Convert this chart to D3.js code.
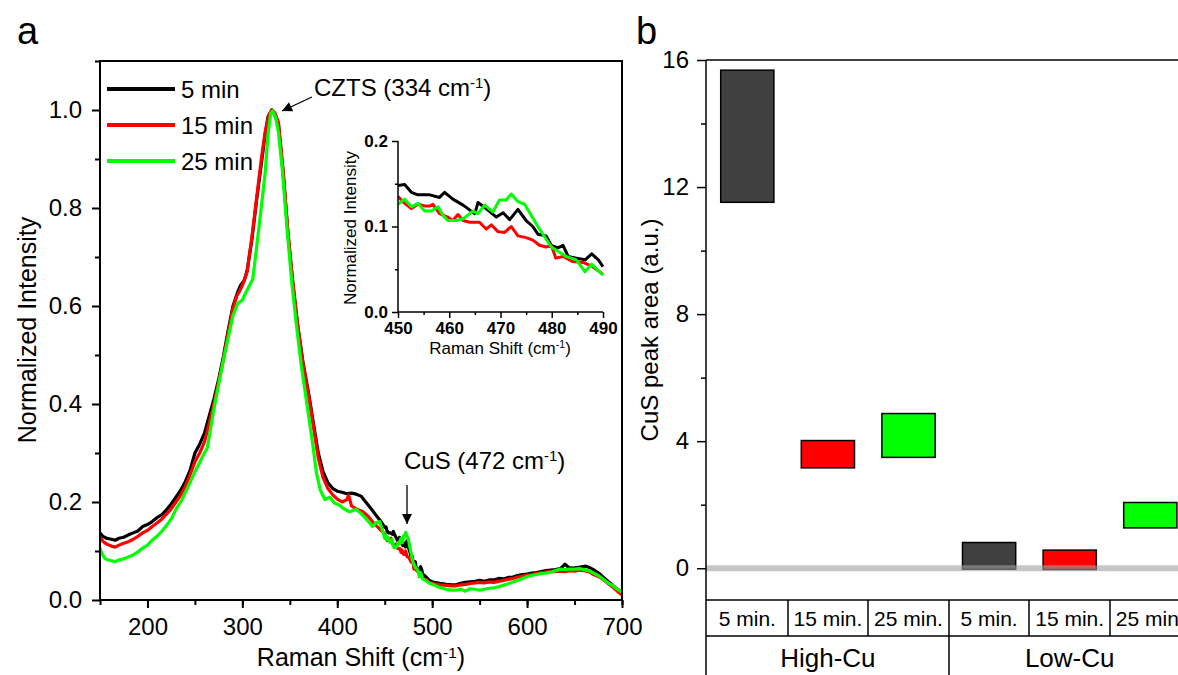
<!DOCTYPE html>
<html>
<head>
<meta charset="utf-8">
<script src="https://cdn.jsdelivr.net/npm/d3@7"></script>
<style>
  body { margin: 0; background: #fff; }
  svg { font-family: "Liberation Sans", Arial, sans-serif; }
</style>
</head>
<body>
<svg id="chart" width="1178" height="675"></svg>
<script>
// ---- panel a: Raman spectra [shift cm-1, normalized intensity] ----
var spec5 = [
  [150,0.137],[153,0.130],[157,0.126],[162,0.124],[166,0.122],[170,0.126],[175,0.128],[180,0.133],
  [185,0.137],[190,0.141],[195,0.150],[200,0.154],[205,0.160],[210,0.168],[215,0.174],[220,0.184],
  [225,0.196],[230,0.210],[235,0.224],[240,0.242],[245,0.265],[250,0.300],[255,0.318],[260,0.340],
  [265,0.375],[270,0.410],[275,0.450],[280,0.497],[285,0.550],[290,0.599],[295,0.628],[298,0.642],
  [302,0.652],[305,0.672],[310,0.735],[315,0.816],[320,0.890],[324,0.950],[327,0.986],[331,1.000],
  [334,0.990],[338,0.970],[343,0.871],[348,0.748],[353,0.650],[358,0.565],[364,0.483],[370,0.420],
  [376,0.347],[380,0.300],[385,0.262],[390,0.240],[395,0.228],[400,0.222],[405,0.220],[410,0.217],
  [415,0.218],[420,0.216],[425,0.212],[430,0.200],[435,0.188],[440,0.175],[445,0.163],
  [450,0.148],[451.3,0.149],[452.6,0.140],[453.9,0.137],[456.2,0.137],[458.1,0.134],[459.1,0.140],
  [460.7,0.132],[462.7,0.125],[464.3,0.118],[465,0.115],[465.6,0.128],[467.2,0.121],[469.2,0.111],
  [470.5,0.116],[471.8,0.108],[473.4,0.120],[475,0.107],[476.3,0.100],[477.3,0.091],[478.9,0.089],
  [479.9,0.078],[481.2,0.075],[482.2,0.078],[483.2,0.065],[484.8,0.063],[486.5,0.061],[487.8,0.068],
  [489.1,0.061],[490,0.053],
  [493,0.048],[497,0.040],[502,0.036],[508,0.034],[515,0.032],[520,0.031],[525,0.031],[530,0.034],
  [535,0.036],[540,0.037],[545,0.038],[550,0.040],[555,0.038],[560,0.041],[565,0.041],[570,0.044],
  [575,0.043],[580,0.046],[585,0.047],[590,0.050],[595,0.052],[600,0.053],[605,0.055],[610,0.056],
  [615,0.058],[620,0.060],[625,0.061],[630,0.062],[635,0.064],[640,0.073],[644,0.066],[648,0.065],
  [652,0.066],[656,0.067],[662,0.069],[666,0.066],[670,0.062],[676,0.054],[680,0.047],[686,0.037],
  [690,0.030],[695,0.022],[700,0.016]
];
var spec15 = [
  [150,0.129],[153,0.120],[157,0.114],[162,0.110],[166,0.108],[170,0.112],[175,0.116],[180,0.119],
  [185,0.124],[190,0.130],[195,0.137],[200,0.142],[205,0.150],[210,0.157],[215,0.165],[220,0.175],
  [225,0.186],[230,0.200],[235,0.214],[240,0.232],[245,0.256],[250,0.282],[255,0.300],[260,0.322],
  [265,0.360],[270,0.400],[275,0.445],[280,0.490],[285,0.545],[290,0.595],[294,0.620],[297,0.630],
  [300,0.642],[305,0.670],[310,0.740],[315,0.820],[320,0.900],[324,0.955],[328,0.990],[331,1.000],
  [334,0.995],[338,0.975],[343,0.875],[348,0.752],[353,0.650],[358,0.565],[364,0.480],[370,0.415],
  [376,0.340],[380,0.290],[385,0.250],[390,0.228],[395,0.215],[400,0.206],[405,0.200],[410,0.205],
  [412,0.214],[415,0.192],[420,0.186],[427,0.180],[432,0.172],[437,0.160],[442,0.150],[446,0.142],
  [450,0.135],[451.3,0.127],[452.6,0.121],[453.9,0.126],[455.2,0.124],[456.2,0.124],[456.8,0.126],
  [458.1,0.115],[459.7,0.111],[460.7,0.107],[461.7,0.114],[462.7,0.107],[464,0.105],[465.9,0.105],
  [467.2,0.097],[468.2,0.102],[469.5,0.094],[470.8,0.093],[472.1,0.100],[473.4,0.089],[475,0.087],
  [476.3,0.084],[477.6,0.078],[478.9,0.076],[479.9,0.078],[480.8,0.063],[482.2,0.065],[484.1,0.059],
  [486.1,0.058],[488,0.053],[490,0.044],
  [493,0.042],[497,0.036],[502,0.033],[508,0.031],[515,0.030],[520,0.029],[525,0.029],[530,0.031],
  [535,0.032],[540,0.034],[545,0.035],[550,0.036],[555,0.035],[560,0.037],[565,0.036],[570,0.038],
  [575,0.040],[580,0.042],[585,0.044],[590,0.047],[595,0.049],[600,0.051],[605,0.052],[610,0.054],
  [615,0.056],[620,0.057],[625,0.058],[630,0.058],[635,0.059],[640,0.058],[645,0.060],[650,0.059],
  [655,0.061],[660,0.060],[665,0.058],[670,0.052],[675,0.048],[680,0.042],[685,0.034],[690,0.027],
  [695,0.018],[700,0.010]
];
var spec25 = [
  [150,0.106],[152,0.095],[155,0.085],[158,0.082],[162,0.080],[166,0.078],[170,0.082],[175,0.084],
  [180,0.088],[185,0.092],[190,0.098],[195,0.106],[200,0.112],[205,0.122],[210,0.130],[215,0.140],
  [220,0.152],[225,0.165],[230,0.185],[235,0.200],[240,0.220],[245,0.240],[250,0.262],[255,0.280],
  [260,0.300],[263,0.310],[268,0.367],[272,0.410],[276,0.450],[280,0.490],[285,0.535],[290,0.580],
  [295,0.605],[300,0.612],[303,0.625],[306,0.636],[311,0.655],[315,0.720],[318,0.769],[321,0.820],
  [324,0.871],[327,0.950],[330,0.995],[332,0.998],[335,0.985],[338,0.955],[342,0.880],[347,0.760],
  [352,0.650],[357,0.560],[362,0.480],[368,0.400],[374,0.320],[378,0.260],[382,0.225],[387,0.205],
  [392,0.210],[397,0.198],[402,0.194],[407,0.186],[413,0.180],[420,0.185],[424,0.178],[427,0.173],
  [432,0.162],[437,0.150],[441,0.158],[444.7,0.160],[448,0.140],
  [450,0.126],[451.3,0.132],[452.6,0.123],[453.9,0.127],[455.2,0.118],[456.5,0.118],[457.8,0.123],
  [458.8,0.113],[459.7,0.107],[461.4,0.107],[462.7,0.109],[464.6,0.118],[465.6,0.115],[466.9,0.125],
  [468.5,0.117],[469.8,0.131],[471.1,0.131],[472.1,0.138],[473.4,0.129],[474.7,0.126],[476,0.113],
  [477.3,0.100],[478.6,0.088],[479.9,0.076],[481.5,0.070],[482.8,0.065],[484.8,0.061],[486.5,0.047],
  [487.8,0.056],[490,0.043],
  [493,0.040],[497,0.034],[503,0.030],[507,0.026],[511,0.024],[516,0.021],[520,0.020],[525,0.020],
  [530,0.022],[535,0.018],[540,0.023],[545,0.022],[550,0.020],[555,0.022],[560,0.024],[565,0.025],
  [570,0.027],[575,0.030],[580,0.033],[585,0.037],[590,0.040],[595,0.044],[600,0.048],[605,0.050],
  [610,0.052],[615,0.054],[620,0.055],[625,0.057],[630,0.060],[635,0.063],[640,0.062],[645,0.063],
  [650,0.063],[655,0.064],[660,0.062],[665,0.060],[670,0.055],[675,0.050],[680,0.043],[685,0.035],
  [690,0.030],[695,0.022],[700,0.016]
];
var specNames = ["5 min", "15 min", "25 min"];
var specColors = ["#000000", "#ff0000", "#00ff00"];

var xTicks = [200, 300, 400, 500, 600, 700];
var yTicks = [0, 0.2, 0.4, 0.6, 0.8, 1.0];
var insetXTicks = [450, 460, 470, 480, 490];
var insetYTicks = [0, 0.1, 0.2];

// ---- panel b: CuS peak area boxes ----
var bGroups = ["High-Cu", "Low-Cu"];
var bTimes = ["5 min.", "15 min.", "25 min."];
var bLow  = [11.52, 3.16, 3.49, -0.03, -0.04, 1.27];
var bHigh = [15.68, 4.02, 4.87, 0.81, 0.57, 2.07];
var bColors = ["#404040", "#ff0000", "#00ff00"];
var bTicks = [0, 4, 8, 12, 16];

var svg = d3.select("#chart");

// superscript helper: parts = [[text, sup?], ...]
function richText(sel, parts) {
  parts.forEach(function(p) {
    var t = sel.append("tspan").text(p[0]);
    if (p[1]) t.attr("font-size", "0.62em").attr("baseline-shift", "super");
  });
  return sel;
}

var defs = svg.append("defs");
defs.append("marker")
  .attr("id", "arr")
  .attr("viewBox", "0 0 10 10")
  .attr("refX", 10).attr("refY", 5)
  .attr("markerUnits", "userSpaceOnUse")
  .attr("markerWidth", 13).attr("markerHeight", 10)
  .attr("orient", "auto")
  .append("path").attr("d", "M0,0 L10,5 L0,10 z").attr("fill", "#000");

// ================= panel a =================
var x = d3.scaleLinear().domain([150, 700]).range([100, 622]);
var y = d3.scaleLinear().domain([0, 1.1]).range([600, 61]);

var ga = svg.append("g");

function styleAxis(g, w) {
  g.select(".domain").remove();
  g.selectAll(".tick line").attr("stroke", "#000").attr("stroke-width", w);
  g.selectAll(".tick text").attr("fill", "#000");
}

// minor + major ticks
ga.append("g").attr("transform", "translate(0,600)")
  .call(d3.axisBottom(x).tickValues(d3.range(150, 701, 50)).tickSize(5).tickFormat(""))
  .call(styleAxis, 2);
ga.append("g").attr("transform", "translate(0,600)")
  .call(d3.axisBottom(x).tickValues(xTicks).tickSize(8).tickPadding(10))
  .call(styleAxis, 2)
  .selectAll("text").attr("font-size", 24).attr("font-family", "Liberation Sans, Arial, sans-serif");
ga.append("g").attr("transform", "translate(100,0)")
  .call(d3.axisLeft(y).tickValues(d3.range(0.1, 1.11, 0.2)).tickSize(5).tickFormat(""))
  .call(styleAxis, 2);
ga.append("g").attr("transform", "translate(100,0)")
  .call(d3.axisLeft(y).tickValues(yTicks).tickSize(8).tickPadding(10).tickFormat(d3.format(".1f")))
  .call(styleAxis, 2)
  .selectAll("text").attr("font-size", 24).attr("font-family", "Liberation Sans, Arial, sans-serif");

// spectra
var line = d3.line().x(function(d) { return x(d[0]); }).y(function(d) { return y(d[1]); });
var specs = [spec5, spec15, spec25];
ga.selectAll(".spec").data(specs).enter().append("path")
  .attr("d", line)
  .attr("fill", "none")
  .attr("stroke", function(d, i) { return specColors[i]; })
  .attr("stroke-width", 3.2)
  .attr("stroke-linejoin", "round");

// frame
ga.append("rect").attr("x", 100).attr("y", 61).attr("width", 522).attr("height", 539)
  .attr("fill", "none").attr("stroke", "#000").attr("stroke-width", 2);

// legend
var leg = ga.selectAll(".leg").data(specNames).enter().append("g")
  .attr("transform", function(d, i) { return "translate(107," + (89 + i * 36) + ")"; });
leg.append("line").attr("x1", 0).attr("x2", 68)
  .attr("stroke", function(d, i) { return specColors[i]; }).attr("stroke-width", 4);
leg.append("text").attr("x", 74).attr("dy", "0.36em").attr("font-size", 24).text(function(d) { return d; });

// annotations
richText(ga.append("text").attr("x", 314).attr("y", 96).attr("font-size", 24),
  [["CZTS (334 cm"], ["-1", true], [")"]]);
ga.append("line").attr("x1", 312).attr("y1", 97).attr("x2", 282).attr("y2", 111)
  .attr("stroke", "#000").attr("stroke-width", 1.3).attr("marker-end", "url(#arr)");
richText(ga.append("text").attr("x", 404).attr("y", 469).attr("font-size", 24),
  [["CuS (472 cm"], ["-1", true], [")"]]);
ga.append("line").attr("x1", 407).attr("y1", 485).attr("x2", 407).attr("y2", 524)
  .attr("stroke", "#000").attr("stroke-width", 1.3).attr("marker-end", "url(#arr)");

// inset
var xi = d3.scaleLinear().domain([450, 490]).range([398, 603]);
var yi = d3.scaleLinear().domain([0, 0.2]).range([312, 141]);
defs.append("clipPath").attr("id", "insetClip").append("rect")
  .attr("x", 398).attr("y", 120).attr("width", 206).attr("height", 192);
var gi = svg.append("g");
var lineI = d3.line().x(function(d) { return xi(d[0]); }).y(function(d) { return yi(d[1]); });
gi.append("g").attr("clip-path", "url(#insetClip)")
  .selectAll("path").data(specs).enter().append("path")
  .attr("d", function(d) { return lineI(d.filter(function(p) { return p[0] >= 448 && p[0] <= 492; })); })
  .attr("fill", "none")
  .attr("stroke", function(d, i) { return specColors[i]; })
  .attr("stroke-width", 3)
  .attr("stroke-linejoin", "round");
gi.append("g").attr("transform", "translate(0,312)")
  .call(d3.axisBottom(xi).tickValues(d3.range(455, 490, 10)).tickSize(3).tickFormat(""))
  .call(styleAxis, 1.5);
gi.append("g").attr("transform", "translate(0,312)")
  .call(d3.axisBottom(xi).tickValues(insetXTicks).tickSize(6).tickPadding(4))
  .call(styleAxis, 1.5)
  .selectAll("text").attr("font-size", 17).attr("font-weight", "bold").attr("font-family", "Liberation Sans, Arial, sans-serif");
gi.append("g").attr("transform", "translate(398,0)")
  .call(d3.axisLeft(yi).tickValues([0.05, 0.15]).tickSize(3).tickFormat(""))
  .call(styleAxis, 1.5);
gi.append("g").attr("transform", "translate(398,0)")
  .call(d3.axisLeft(yi).tickValues(insetYTicks).tickSize(6).tickPadding(4).tickFormat(d3.format(".1f")))
  .call(styleAxis, 1.5)
  .selectAll("text").attr("font-size", 17).attr("font-weight", "bold").attr("font-family", "Liberation Sans, Arial, sans-serif");
gi.append("path").attr("d", "M398,141 V312 H603").attr("fill", "none").attr("stroke", "#000").attr("stroke-width", 1.5);
gi.append("text").attr("transform", "translate(356,228) rotate(-90)")
  .attr("text-anchor", "middle").attr("font-size", 17).text("Normalized Intensity");
richText(gi.append("text").attr("x", 500).attr("y", 354).attr("text-anchor", "middle").attr("font-size", 17),
  [["Raman Shift (cm"], ["-1", true], [")"]]);

// axis titles a
ga.append("text").attr("transform", "translate(36,330) rotate(-90)")
  .attr("text-anchor", "middle").attr("font-size", 25).text("Normalized Intensity");
richText(ga.append("text").attr("x", 361).attr("y", 666).attr("text-anchor", "middle").attr("font-size", 25),
  [["Raman Shift (cm"], ["-1", true], [")"]]);

svg.append("text").attr("x", 17).attr("y", 44).attr("font-size", 38).text("a");
svg.append("text").attr("x", 636).attr("y", 44).attr("font-size", 38).text("b");

// ================= panel b =================
var cats = [];
bGroups.forEach(function(g) { bTimes.forEach(function(t) { cats.push(g + "|" + t); }); });
var xb = d3.scaleBand().domain(cats).range([707, 1190.6]).padding(0);
var yb = d3.scaleLinear().domain([-1, 16]).range([600, 60]);
var gb = svg.append("g");

gb.append("g").attr("transform", "translate(706,0)")
  .call(d3.axisLeft(yb).tickValues([2, 6, 10, 14]).tickSize(5).tickFormat(""))
  .call(styleAxis, 1.5);
gb.append("g").attr("transform", "translate(706,0)")
  .call(d3.axisLeft(yb).tickValues(bTicks).tickSize(9).tickPadding(8))
  .call(styleAxis, 1.5)
  .selectAll("text").attr("font-size", 24).attr("font-family", "Liberation Sans, Arial, sans-serif");

var bw = xb.bandwidth();
var boxW = bw * 0.66;
gb.selectAll(".box").data(cats).enter().append("rect")
  .attr("x", function(d) { return xb(d) + (bw - boxW) / 2; })
  .attr("y", function(d, i) { return yb(bHigh[i]); })
  .attr("width", boxW)
  .attr("height", function(d, i) { return yb(bLow[i]) - yb(bHigh[i]); })
  .attr("fill", function(d, i) { return bColors[i % 3]; })
  .attr("stroke", "#000").attr("stroke-width", 1.5);

// zero line
gb.append("line").attr("x1", 706).attr("x2", 1178).attr("y1", yb(0)).attr("y2", yb(0))
  .attr("stroke", "#a0a0a0").attr("stroke-opacity", 0.6).attr("stroke-width", 6);

// frame lines and category table
var yT0 = yb(-1), yT1 = 636;
gb.append("line").attr("x1", 706).attr("x2", 1178).attr("y1", 60).attr("y2", 60).attr("stroke", "#000").attr("stroke-width", 1.5);
gb.append("line").attr("x1", 706).attr("x2", 706).attr("y1", 60).attr("y2", 675).attr("stroke", "#000").attr("stroke-width", 1.5);
gb.append("line").attr("x1", 706).attr("x2", 1178).attr("y1", yT0).attr("y2", yT0).attr("stroke", "#000").attr("stroke-width", 1.5);
gb.append("line").attr("x1", 706).attr("x2", 1178).attr("y1", yT1).attr("y2", yT1).attr("stroke", "#000").attr("stroke-width", 1.5);
gb.selectAll(".sep").data(cats.slice(1)).enter().append("line")
  .attr("x1", function(d) { return Math.round(xb(d)); })
  .attr("x2", function(d) { return Math.round(xb(d)); })
  .attr("y1", yT0)
  .attr("y2", function(d, i) { return i === 2 ? 675 : yT1; })
  .attr("stroke", "#000").attr("stroke-width", 1.5);
gb.selectAll(".clab").data(cats).enter().append("text")
  .attr("x", function(d) { return xb(d) + bw / 2; })
  .attr("y", 626).attr("text-anchor", "middle").attr("font-size", 21)
  .text(function(d) { return d.split("|")[1]; });
gb.selectAll(".glab").data(bGroups).enter().append("text")
  .attr("x", function(g) { return xb(g + "|" + bTimes[0]) + bw * 1.5; })
  .attr("y", 667).attr("text-anchor", "middle").attr("font-size", 26)
  .text(function(g) { return g; });

gb.append("text").attr("transform", "translate(658,330) rotate(-90)")
  .attr("text-anchor", "middle").attr("font-size", 24).text("CuS peak area (a.u.)");
</script>
</body>
</html>
